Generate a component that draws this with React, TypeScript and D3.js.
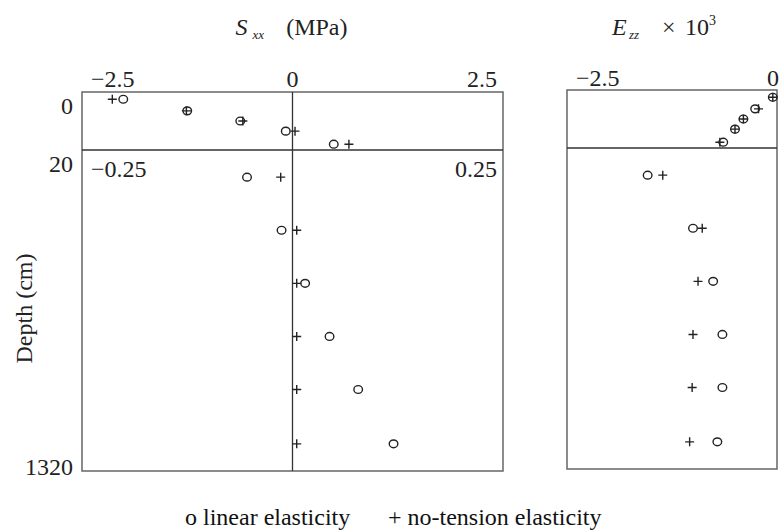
import React from 'react';
import * as d3 from 'd3';

// Depths (cm) of the sampled rows: surface layer (0–20) and subgrade (20–1320)
const topDepths = [2.5, 6.5, 10, 13.5, 18];
const bottomDepths = [130, 345, 560, 775, 990, 1210];

// S_xx (MPa), surface layer
const sxxTopLinear = [-2.01, -1.25, -0.62, -0.08, 0.49];
const sxxTopNoTension = [-2.14, -1.26, -0.59, 0.03, 0.67];
// S_xx (MPa), below 20 cm
const sxxBottomLinear = [-0.054, -0.013, 0.015, 0.044, 0.078, 0.12];
const sxxBottomNoTension = [-0.014, 0.005, 0.005, 0.005, 0.005, 0.005];

// E_zz × 10^3, surface layer
const ezzTopLinear = [-0.05, -0.26, -0.4, -0.5, -0.64];
const ezzTopNoTension = [-0.05, -0.22, -0.4, -0.5, -0.68];
// E_zz × 10^3, below 20 cm
const ezzBottomLinear = [-1.54, -1.0, -0.76, -0.65, -0.65, -0.71];
const ezzBottomNoTension = [-1.36, -0.89, -0.94, -1.0, -1.01, -1.04];

// Axis tick labels
const sxxTopTicks = [-2.5, 0, 2.5];
const sxxBottomTicks = [-0.25, 0.25];
const ezzTicks = [-2.5, 0];
const depthTicks = [0, 20, 1320];

const legendLinear = 'o linear elasticity';
const legendNoTension = '+ no-tension elasticity';

const W = 779;
const H = 530;
const FONT = "'Liberation Serif', 'Times New Roman', serif";
const INK = '#222';
const FRAME = '#666';

const fmt = (v: number) => String(v).replace('-', '\u2212');

const yTop = d3.scaleLinear().domain([0, 20]).range([92, 150]);
const yBottom = d3.scaleLinear().domain([20, 1320]).range([150, 471]);

const xSxxTop = d3.scaleLinear().domain([-2.5, 2.5]).range([82, 503]);
const xSxxBottom = d3.scaleLinear().domain([-0.25, 0.25]).range([82, 503]);
const xEzz = d3.scaleLinear().domain([-2.5, 0]).range([567, 777]);

const serif = (size: number, italic = false): React.CSSProperties => ({
  fontFamily: FONT,
  fontSize: size,
  fontStyle: italic ? 'italic' : 'normal',
});

function Circle({ x, y }: { x: number; y: number }) {
  return <ellipse cx={x} cy={y} rx={4.3} ry={3.9} fill="none" stroke={INK} strokeWidth={1.4} />;
}

function Plus({ x, y }: { x: number; y: number }) {
  const a = 4.5;
  return (
    <path
      d={`M${x - a},${y}H${x + a}M${x},${y - a}V${y + a}`}
      stroke={INK}
      strokeWidth={1.4}
      fill="none"
    />
  );
}

function Series({
  depths,
  values,
  x,
  y,
  mark,
}: {
  depths: number[];
  values: number[];
  x: d3.ScaleLinear<number, number>;
  y: d3.ScaleLinear<number, number>;
  mark: 'o' | '+';
}) {
  return (
    <g>
      {values.map((v, i) =>
        mark === 'o' ? (
          <Circle key={i} x={x(v)} y={y(depths[i])} />
        ) : (
          <Plus key={i} x={x(v)} y={y(depths[i])} />
        )
      )}
    </g>
  );
}

function TickRow({
  ticks,
  x,
  baseline,
  clipRight,
}: {
  ticks: number[];
  x: d3.ScaleLinear<number, number>;
  baseline: number;
  clipRight: boolean;
}) {
  const [lo, hi] = x.domain();
  return (
    <g style={serif(24)} fill={INK}>
      {ticks.map((t) => {
        let anchor: 'start' | 'middle' | 'end' = 'middle';
        let dx = 0;
        if (t === lo) {
          anchor = 'start';
          dx = 9;
        } else if (t === hi) {
          anchor = 'end';
          dx = clipRight ? W - x(t) : -6;
        }
        return (
          <text key={t} x={x(t) + dx} y={baseline} textAnchor={anchor}>
            {fmt(t)}
          </text>
        );
      })}
    </g>
  );
}

export default function App() {
  const leftL = xSxxTop.range()[0];
  const leftR = xSxxTop.range()[1];
  const rightL = xEzz.range()[0];
  const rightR = xEzz.range()[1];
  const top = yTop(0);
  const mid = yTop(20);
  const bottom = yBottom(1320);

  const cS = xSxxTop(0);
  const cE = (rightL + rightR) / 2 - 9;
  const titleY = 35;

  return (
    <svg
      width={W}
      height={H}
      viewBox={`0 0 ${W} ${H}`}
      style={{ position: 'absolute', left: 0, top: 0, background: '#fff' }}
    >
      <rect width={W} height={H} fill="#fff" />

      {/* panel titles */}
      <g fill={INK}>
        <text x={cS - 57} y={titleY} style={serif(24, true)}>S</text>
        <text x={cS - 40} y={titleY + 4} style={serif(13, true)}>xx</text>
        <text x={cS + 55} y={titleY} textAnchor="end" style={serif(24)}>(MPa)</text>

        <text x={cE - 51} y={titleY} style={serif(24, true)}>E</text>
        <text x={cE - 34} y={titleY + 4} style={serif(13, true)}>zz</text>
        <text x={cE - 1} y={titleY} style={serif(24)}>{'\u00d7'}</text>
        <text x={cE + 22} y={titleY} style={serif(24)}>10</text>
        <text x={cE + 46} y={titleY - 10} style={serif(14)}>3</text>
      </g>

      {/* left panel frame */}
      <rect x={leftL} y={top} width={leftR - leftL} height={bottom - top} fill="none" stroke={FRAME} strokeWidth={1.5} />
      <line x1={leftL} x2={leftR} y1={mid} y2={mid} stroke="#333" strokeWidth={1.6} />
      <line x1={xSxxTop(0)} x2={xSxxTop(0)} y1={top} y2={bottom} stroke="#333" strokeWidth={1.3} />

      {/* right panel frame */}
      <rect x={rightL} y={top - 2} width={rightR - rightL} height={bottom - top} fill="none" stroke={FRAME} strokeWidth={1.5} />
      <line x1={rightL} x2={rightR} y1={mid - 2} y2={mid - 2} stroke="#333" strokeWidth={1.6} />

      {/* x tick labels */}
      <TickRow ticks={sxxTopTicks} x={xSxxTop} baseline={87} clipRight={false} />
      <TickRow ticks={sxxBottomTicks} x={xSxxBottom} baseline={177} clipRight={false} />
      <TickRow ticks={ezzTicks} x={xEzz} baseline={86} clipRight={true} />

      {/* depth axis labels */}
      <g style={serif(24)} fill={INK} textAnchor="end">
        {depthTicks.map((d) => {
          const yy = d <= 20 ? yTop(d) + 22 : yBottom(d) + 4;
          return (
            <text key={d} x={73} y={yy}>
              {d}
            </text>
          );
        })}
      </g>
      <text
        transform={`translate(32, ${(yBottom(20) + yBottom(1320)) / 2 - 2}) rotate(-90)`}
        textAnchor="middle"
        style={serif(24)}
        fill={INK}
      >
        Depth (cm)
      </text>

      {/* S_xx points */}
      <Series depths={topDepths} values={sxxTopNoTension} x={xSxxTop} y={yTop} mark="+" />
      <Series depths={topDepths} values={sxxTopLinear} x={xSxxTop} y={yTop} mark="o" />
      <Series depths={bottomDepths} values={sxxBottomNoTension} x={xSxxBottom} y={yBottom} mark="+" />
      <Series depths={bottomDepths} values={sxxBottomLinear} x={xSxxBottom} y={yBottom} mark="o" />

      {/* E_zz points */}
      <g transform="translate(0,-2)">
        <Series depths={topDepths} values={ezzTopNoTension} x={xEzz} y={yTop} mark="+" />
        <Series depths={topDepths} values={ezzTopLinear} x={xEzz} y={yTop} mark="o" />
        <Series depths={bottomDepths} values={ezzBottomNoTension} x={xEzz} y={yBottom} mark="+" />
        <Series depths={bottomDepths} values={ezzBottomLinear} x={xEzz} y={yBottom} mark="o" />
      </g>

      {/* legend */}
      <g style={serif(24)} fill="#111">
        <text x={185} y={525}>{legendLinear}</text>
        <text x={388} y={525}>{legendNoTension}</text>
      </g>
    </svg>
  );
}
